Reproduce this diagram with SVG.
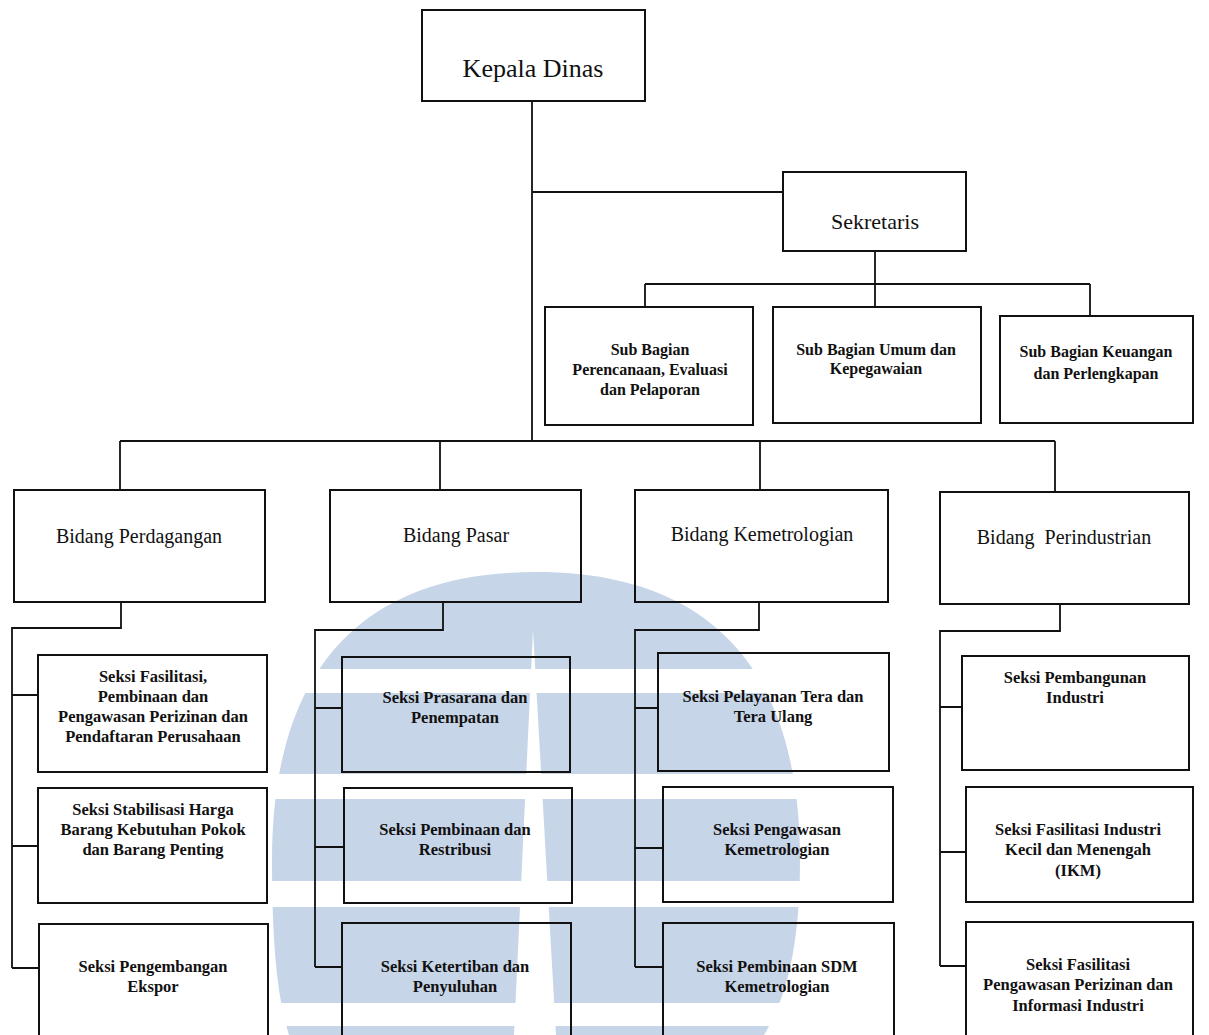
<svg xmlns="http://www.w3.org/2000/svg" width="1209" height="1035" viewBox="0 0 1209 1035">
<style>
.box{fill:none;stroke:#111;stroke-width:2}
.ln{fill:none;stroke:#111;stroke-width:1.8}
text{font-family:"Liberation Serif","Times New Roman",serif;fill:#111;text-anchor:middle}
.big{font-size:26px}
.sek{font-size:22px}
.bid{font-size:20px}
.sm{font-size:16px;font-weight:bold}
.sk{font-size:16.5px;font-weight:bold}
</style>
<rect x="0" y="0" width="1209" height="1035" fill="#fff"/>
<g id="watermark">
<path d="M536 572 C720 572 800 680 800 860 C800 950 785 1000 764 1035 L289 1035 C278 1000 272 950 272 860 C272 680 352 572 536 572 Z" fill="#c7d5e8"/>
<rect x="260" y="669" width="550" height="24" fill="#fff"/>
<rect x="260" y="774" width="550" height="25" fill="#fff"/>
<rect x="260" y="881" width="550" height="26" fill="#fff"/>
<rect x="260" y="1003" width="550" height="23" fill="#fff"/>
<path d="M533 630 L514 1035 L556 1035 Z" fill="#fff"/>
</g>
<g id="connectors">
<path class="ln" d="M532 101 V441 M532 192 H783 M875 251 V284 M645 284 H1090 M645 284 V307 M875 284 V307 M1090 284 V316"/>
<path class="ln" d="M120 441 H1055 M120 441 V490 M440 441 V490 M760 441 V490 M1055 441 V492"/>
<path class="ln" d="M121 602 V628 H12 V968 M12 695 H38 M12 846 H38 M12 968 H39"/>
<path class="ln" d="M443 602 V630 H315 V967 M315 708 H342 M315 847 H344 M315 967 H342"/>
<path class="ln" d="M759 602 V630 H635 V967 M635 708 H658 M635 848 H663 M635 967 H663"/>
<path class="ln" d="M1060 604 V631 H940 V966 M940 707 H962 M940 852 H966 M940 966 H966"/>
</g>
<g id="kepala-dinas"><rect class="box" x="422" y="10" width="223" height="91"/><text class="big" x="533" y="77">Kepala Dinas</text></g>
<g id="sekretaris"><rect class="box" x="783" y="172" width="183" height="79"/><text class="sek" x="875" y="229">Sekretaris</text></g>
<g id="sub-perencanaan"><rect class="box" x="545" y="307" width="208" height="118"/><text class="sm" x="650" y="355">Sub Bagian</text><text class="sm" x="650" y="375">Perencanaan, Evaluasi</text><text class="sm" x="650" y="395">dan Pelaporan</text></g>
<g id="sub-umum"><rect class="box" x="773" y="307" width="208" height="116"/><text class="sm" x="876" y="355">Sub Bagian Umum dan</text><text class="sm" x="876" y="374">Kepegawaian</text></g>
<g id="sub-keuangan"><rect class="box" x="1000" y="316" width="193" height="107"/><text class="sm" x="1096" y="357">Sub Bagian Keuangan</text><text class="sm" x="1096" y="379">dan Perlengkapan</text></g>
<g id="bidang-perdagangan"><rect class="box" x="14" y="490" width="251" height="112"/><text class="bid" x="139" y="543">Bidang Perdagangan</text></g>
<g id="bidang-pasar"><rect class="box" x="330" y="490" width="251" height="112"/><text class="bid" x="456" y="542">Bidang Pasar</text></g>
<g id="bidang-kemetrologian"><rect class="box" x="635" y="490" width="253" height="112"/><text class="bid" x="762" y="541">Bidang Kemetrologian</text></g>
<g id="bidang-perindustrian"><rect class="box" x="940" y="492" width="249" height="112"/><text class="bid" x="1064" y="544">Bidang&#160; Perindustrian</text></g>
<g id="seksi-fasilitasi-perizinan"><rect class="box" x="38" y="655" width="229" height="117"/><text class="sk" x="153" y="682">Seksi Fasilitasi,</text><text class="sk" x="153" y="702">Pembinaan dan</text><text class="sk" x="153" y="722">Pengawasan Perizinan dan</text><text class="sk" x="153" y="742">Pendaftaran Perusahaan</text></g>
<g id="seksi-stabilisasi"><rect class="box" x="38" y="788" width="229" height="115"/><text class="sk" x="153" y="815">Seksi Stabilisasi Harga</text><text class="sk" x="153" y="835">Barang Kebutuhan Pokok</text><text class="sk" x="153" y="855">dan Barang Penting</text></g>
<g id="seksi-ekspor"><rect class="box" x="39" y="924" width="229" height="120"/><text class="sk" x="153" y="972">Seksi Pengembangan</text><text class="sk" x="153" y="992">Ekspor</text></g>
<g id="seksi-prasarana"><rect class="box" x="342" y="657" width="228" height="115"/><text class="sk" x="455" y="703">Seksi Prasarana dan</text><text class="sk" x="455" y="723">Penempatan</text></g>
<g id="seksi-pembinaan-restribusi"><rect class="box" x="344" y="788" width="228" height="115"/><text class="sk" x="455" y="835">Seksi Pembinaan dan</text><text class="sk" x="455" y="855">Restribusi</text></g>
<g id="seksi-ketertiban"><rect class="box" x="342" y="923" width="229" height="121"/><text class="sk" x="455" y="972">Seksi Ketertiban dan</text><text class="sk" x="455" y="992">Penyuluhan</text></g>
<g id="seksi-pelayanan-tera"><rect class="box" x="658" y="653" width="231" height="118"/><text class="sk" x="773" y="702">Seksi Pelayanan Tera dan</text><text class="sk" x="773" y="722">Tera Ulang</text></g>
<g id="seksi-pengawasan-kemetrologian"><rect class="box" x="663" y="787" width="230" height="115"/><text class="sk" x="777" y="835">Seksi Pengawasan</text><text class="sk" x="777" y="855">Kemetrologian</text></g>
<g id="seksi-sdm-kemetrologian"><rect class="box" x="663" y="923" width="231" height="121"/><text class="sk" x="777" y="972">Seksi Pembinaan SDM</text><text class="sk" x="777" y="992">Kemetrologian</text></g>
<g id="seksi-pembangunan-industri"><rect class="box" x="962" y="656" width="227" height="114"/><text class="sk" x="1075" y="683">Seksi Pembangunan</text><text class="sk" x="1075" y="703">Industri</text></g>
<g id="seksi-ikm"><rect class="box" x="966" y="787" width="227" height="115"/><text class="sk" x="1078" y="835">Seksi Fasilitasi Industri</text><text class="sk" x="1078" y="855">Kecil dan Menengah</text><text class="sk" x="1078" y="876">(IKM)</text></g>
<g id="seksi-informasi-industri"><rect class="box" x="966" y="922" width="227" height="122"/><text class="sk" x="1078" y="970">Seksi Fasilitasi</text><text class="sk" x="1078" y="990">Pengawasan Perizinan dan</text><text class="sk" x="1078" y="1011">Informasi Industri</text></g>
</svg>
